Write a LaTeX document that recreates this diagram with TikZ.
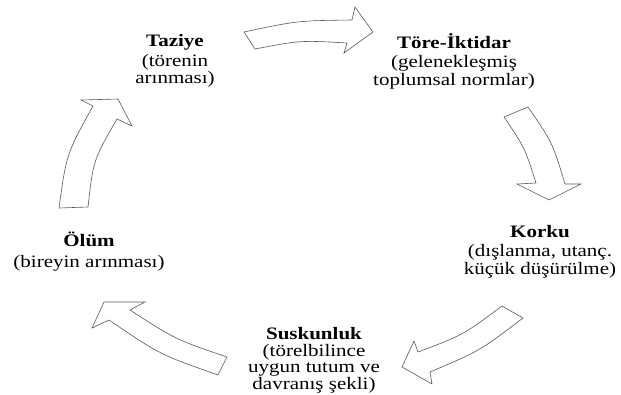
\documentclass[tikz,border=0pt]{standalone}
\usepackage{fontspec}
\setmainfont[FakeStretch=1.2]{Liberation Serif}
\tikzset{
 blokok/.style={draw=black!65, line width=.6pt, fill=white, line join=miter},
 etiket/.style={align=center, inner sep=0pt, font=\fontsize{17.5}{17.5}\selectfont},
}

\begin{document}
\begin{tikzpicture} [x=1pt, y=-1pt]
\fill[white] (0,0) rectangle (621,394);
\useasboundingbox (0,0) rectangle (621,394);
\node[etiket] (taziye) at (175,61) {\textbf{Taziye}\\[2pt](törenin\\arınması)};
\node[etiket] (tore) at (454,61) {\textbf{Töre-İktidar}\\[2pt](gelenekleşmiş\\toplumsal normlar)};
\node[etiket] (korku) at (540,251.5) {\textbf{Korku}\\[2pt](dışlanma, utanç.\\küçük düşürülme)};
\node[etiket] (olum) at (89,251.5) {\textbf{Ölüm}\\[4pt](bireyin arınması)};
\node[etiket, font=\fontsize{17.5}{16.5}\selectfont] (suskun) at (314,360.5) {\textbf{Suskunluk}\\(törelbilince\\uygun tutum ve\\davranış şekli)};
\draw[blokok] (244,32) .. controls (297.4,20.7) .. (352,20) -- (355,7) -- (373,32) -- (344,53) -- (347,43) .. controls (300.5,40.3) .. (255,49) -- cycle;
\draw[blokok] (504,117) .. controls (524.8,147.7) .. (536,183) -- (517,184) -- (549,200) -- (581,184) -- (565,184) .. controls (552.5,142.6) .. (528,107) -- cycle;
\draw[blokok] (502,306) -- (523,318) .. controls (479.9,350.8) .. (430,372) -- (432,384) -- (402,367) -- (414,341) -- (418,352) .. controls (463.2,334.9) .. (502,306) -- cycle;
\draw[blokok] (104,302) -- (145,302) -- (130,310) .. controls (175.6,339.5) .. (227,357) -- (218,375) .. controls (159.9,354.6) .. (109,320) -- (92,328) -- cycle;
\draw[blokok] (59,208) .. controls (66.5,153.8) .. (93,106) -- (81,100) -- (118,99) -- (132,126) -- (117,119) .. controls (93.3,160) .. (88,207) -- cycle;
\end{tikzpicture}
\end{document}
